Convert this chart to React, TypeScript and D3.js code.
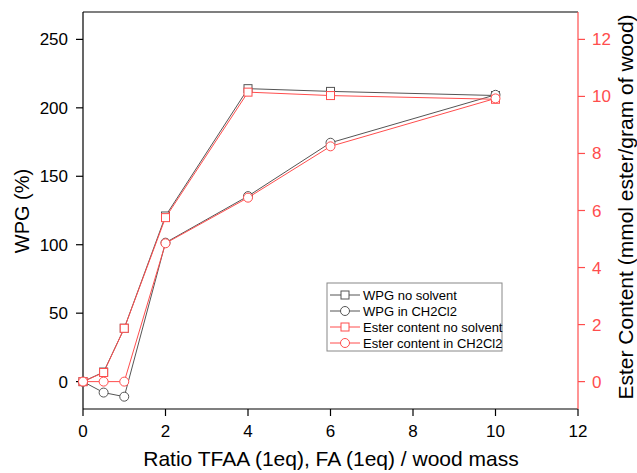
import React from "react";
import * as d3 from "d3";

const xValues = [0, 0.5, 1, 2, 4, 6, 10];
const wpgNoSolvent = [0, 7, 39, 121, 214, 212, 209];
const wpgInCH2Cl2 = [0, -8, -11, 101.5, 135.5, 174.5, 209.5];
const esterNoSolvent = [0, 0.32, 1.87, 5.75, 10.15, 10.03, 9.9];
const esterInCH2Cl2 = [0, 0, 0, 4.85, 6.45, 8.25, 9.93];

const xTicks = [0, 2, 4, 6, 8, 10, 12];
const leftTicks = [0, 50, 100, 150, 200, 250];
const rightTicks = [0, 2, 4, 6, 8, 10, 12];

const legendLabels = ["WPG no solvent", "WPG in CH2Cl2", "Ester content no solvent", "Ester content in CH2Cl2"];

const W = 637, H = 473;
const L = 83, R = 578, T = 12, B = 409;
const BLACK = "#555555";
const RED = "#ff4d4d";
const FONT = "Arial, 'Liberation Sans', sans-serif";

export default function App() {
  const x = d3.scaleLinear().domain([0, 12]).range([L, R]);
  const yL = d3.scaleLinear().domain([-20, 270]).range([B, T]);
  const yR = d3.scaleLinear().domain([-0.96, 12.96]).range([B, T]);

  const series = [
    { vals: wpgNoSolvent, y: yL, color: BLACK, shape: "square" },
    { vals: wpgInCH2Cl2, y: yL, color: BLACK, shape: "circle" },
    { vals: esterNoSolvent, y: yR, color: RED, shape: "square" },
    { vals: esterInCH2Cl2, y: yR, color: RED, shape: "circle" },
  ];

  const marker = (shape: string, cx: number, cy: number, color: string, key: any) =>
    shape === "square" ? (
      <rect key={key} x={cx - 4} y={cy - 4} width={8} height={8} fill="white" stroke={color} strokeWidth={1} />
    ) : (
      <circle key={key} cx={cx} cy={cy} r={4.5} fill="white" stroke={color} strokeWidth={1} />
    );

  const lg = { x: 327, y: 283, w: 175, h: 68 };

  return (
    <svg width={W} height={H} style={{ position: "absolute", left: 0, top: 0, background: "white" }} fontFamily={FONT}>
      <rect width={W} height={H} fill="white" />
      {/* frame */}
      <line x1={L} x2={R} y1={T} y2={T} stroke="black" strokeWidth={1.2} />
      <line x1={L} x2={R} y1={B} y2={B} stroke="black" strokeWidth={1.2} />
      <line x1={L} x2={L} y1={T} y2={B} stroke="black" strokeWidth={1.2} />
      {/* bottom ticks */}
      {xTicks.map((t) => (
        <g key={"x" + t}>
          <line x1={x(t)} x2={x(t)} y1={B} y2={B + 7} stroke="black" strokeWidth={1.2} />
          <text x={x(t)} y={B + 28} textAnchor="middle" fontSize={17} fill="black">{t}</text>
        </g>
      ))}
      {/* left ticks */}
      {leftTicks.map((t) => (
        <g key={"l" + t}>
          <line x1={L - 7} x2={L} y1={yL(t)} y2={yL(t)} stroke="black" strokeWidth={1.2} />
          <text x={L - 15} y={yL(t) + 6} textAnchor="end" fontSize={17} fill="black">{t}</text>
        </g>
      ))}
      {/* right axis */}
      <line x1={R} x2={R} y1={T} y2={B} stroke={RED} strokeWidth={1.2} />
      {rightTicks.map((t) => (
        <g key={"r" + t}>
          <line x1={R} x2={R + 7} y1={yR(t)} y2={yR(t)} stroke={RED} strokeWidth={1.2} />
          <text x={R + 14} y={yR(t) + 6} textAnchor="start" fontSize={17} fill={RED}>{t}</text>
        </g>
      ))}
      {/* titles */}
      <text transform={`translate(29,211) rotate(-90)`} textAnchor="middle" fontSize={20} fill="black">WPG (%)</text>
      <text transform={`translate(633,207) rotate(-90)`} textAnchor="middle" fontSize={21} fill="black">Ester Content (mmol ester/gram of wood)</text>
      <text x={331} y={466} textAnchor="middle" fontSize={21} fill="black">Ratio TFAA (1eq), FA (1eq) / wood mass</text>
      {/* series */}
      {series.map((s, i) => {
        const line = d3.line<number>().x((_, j) => x(xValues[j])).y((v) => s.y(v));
        return (
          <g key={"s" + i}>
            <path d={line(s.vals) || ""} fill="none" stroke={s.color} strokeWidth={1} />
            {s.vals.map((v, j) => marker(s.shape, x(xValues[j]), s.y(v), s.color, j))}
          </g>
        );
      })}
      {/* legend */}
      <rect x={lg.x} y={lg.y} width={lg.w} height={lg.h} fill="white" stroke="#888" strokeWidth={1} />
      {legendLabels.map((lab, i) => {
        const cy = lg.y + 12 + i * 16;
        const s = series[i];
        return (
          <g key={"lg" + i}>
            <line x1={lg.x + 3} x2={lg.x + 33} y1={cy} y2={cy} stroke={s.color} strokeWidth={1} />
            {marker(s.shape, lg.x + 18, cy, s.color, "m")}
            <text x={lg.x + 36} y={cy + 5} fontSize={13} fill="black">{lab}</text>
          </g>
        );
      })}
    </svg>
  );
}
